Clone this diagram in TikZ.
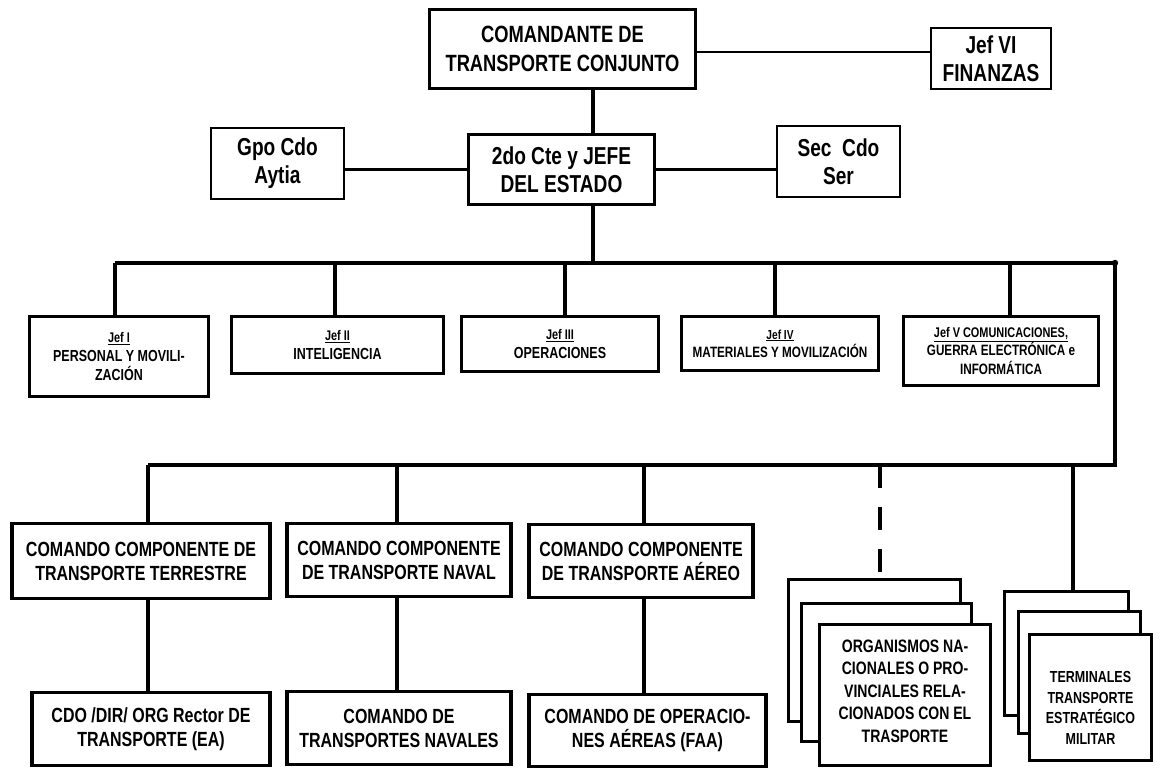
\documentclass[tikz,border=0pt]{standalone}
\usepackage{fontspec}
\setmainfont{Liberation Sans}[FakeStretch=0.78]
\newcommand{\fs}[2]{\fontsize{#1}{#2}\selectfont}
\begin{document}
\begin{tikzpicture}[x=1pt,y=-1pt,
  bx/.style={draw, line width=3.5pt, fill=white, align=center, inner sep=0pt},
  tbx/.style={draw, line width=2pt, fill=white, align=center, inner sep=0pt},
  lbl/.style={align=center, inner sep=0pt},
  big/.style={font=\bfseries\fs{23.5}{29}},
  side/.style={font=\bfseries\fs{24.5}{28}},
  mid/.style={font=\bfseries\fs{20.5}{24}},
  small/.style={font=\bfseries\fs{16}{19}},
  link/.style={line width=4pt},
  tlink/.style={line width=2.6pt},
  dlink/.style={line width=4pt, dash pattern=on 23pt off 19pt},
  bus/.style={line width=4.5pt, line join=miter}]
\useasboundingbox (0,0) rectangle (1161,783);

% command level
\node[bx, big, minimum width=266, minimum height=79] (top) at (562.5,49)
  {COMANDANTE DE\\TRANSPORTE CONJUNTO};
\node[tbx, side, minimum width=120, minimum height=61] (fin) at (991,58.5)
  {Jef VI\\FINANZAS};
\node[bx, side, minimum width=186, minimum height=70] (second) at (561.5,169.5)
  {2do Cte y JEFE\\DEL ESTADO};
\node[tbx, side, minimum width=133, minimum height=71] (gpo) at (277.5,163.5)
  {Gpo Cdo\\Aytia};
\node[tbx, side, minimum width=123, minimum height=71] (sec) at (838.5,161.5)
  {Sec\ \ Cdo\\Ser};

\coordinate (sp) at (593,0);
\coordinate (bus1L) at (115,263);
\coordinate (bus1R) at (1115,263);
\coordinate (bus2L) at (148,465);
\coordinate (bus2R) at (1115,465);

\draw[tlink] ([yshift=-3pt]top.east) -- ([yshift=-3pt]top.east -| fin.west);
\draw[tlink] (second.west) -- (second.west -| gpo.east);
\draw[tlink] (second.east) -- (second.east -| sec.west);
\draw[link] (top.south -| sp) -- (second.north -| sp);
\draw[link] (second.south -| sp) -- (sp |- bus1L);

% staff sections
\node[bx, small, minimum width=179, minimum height=80] (j1) at (119,356.5)
  {\fs{14}{19}\underline{Jef I}\\PERSONAL Y MOVILI-\\ZACIÓN};
\node[bx, small, minimum width=212, minimum height=57] (j2) at (337.5,345)
  {\fs{14}{19}\underline{Jef II}\\INTELIGENCIA};
\node[bx, small, minimum width=197, minimum height=55] (j3) at (560,344)
  {\fs{14}{19}\underline{Jef III}\\OPERACIONES};
\node[bx, font=\bfseries\fs{15}{18}, minimum width=197, minimum height=54] (j4) at (780,343.5)
  {\fs{13}{18}\underline{Jef IV}\\MATERIALES Y MOVILIZACIÓN};
\node[bx, font=\bfseries\fs{15}{18}, minimum width=195, minimum height=69] (j5) at (1001,351)
  {\fs{14}{18}\underline{Jef V COMUNICACIONES,}\\GUERRA ELECTRÓNICA e\\INFORMÁTICA};

\draw[bus] (bus1L) -- (bus1R) -- (bus2R) -- (bus2L);
\fill (bus1R) circle (3.2pt);
\draw[link] ([xshift=-4pt]j1.north |- bus1L) -- ([xshift=-4pt]j1.north);
\draw[link] ([xshift=-2.5pt]j2.north |- bus1L) -- ([xshift=-2.5pt]j2.north);
\draw[link] ([xshift=5pt]j3.north |- bus1L) -- ([xshift=5pt]j3.north);
\draw[link] ([xshift=-5pt]j4.north |- bus1L) -- ([xshift=-5pt]j4.north);
\draw[link] ([xshift=9pt]j5.north |- bus1L) -- ([xshift=9pt]j5.north);

% component commands
\node[bx, mid, minimum width=258, minimum height=75] (c1) at (141,561)
  {COMANDO COMPONENTE DE\\TRANSPORTE TERRESTRE};
\node[bx, mid, minimum width=224, minimum height=73] (c2) at (399,560)
  {COMANDO COMPONENTE\\DE TRANSPORTE NAVAL};
\node[bx, mid, minimum width=224, minimum height=73] (c3) at (641,561)
  {COMANDO COMPONENTE\\DE TRANSPORTE AÉREO};

\node[bx, mid, minimum width=238, minimum height=73] (b1) at (151,729)
  {CDO /DIR/ ORG Rector DE\\TRANSPORTE (EA)};
\node[bx, mid, minimum width=224, minimum height=73] (b2) at (399,728)
  {COMANDO DE\\TRANSPORTES NAVALES};
\node[bx, mid, minimum width=237, minimum height=72] (b3) at (647.5,730.5)
  {COMANDO DE OPERACIO-\\NES AÉREAS (FAA)};

\draw[link] ([xshift=7pt]c1.north |- bus2L) -- ([xshift=7pt]c1.north);
\draw[link] ([xshift=-2pt]c2.north |- bus2L) -- ([xshift=-2pt]c2.north);
\draw[link] ([xshift=3pt]c3.north |- bus2L) -- ([xshift=3pt]c3.north);
\draw[link] ([xshift=7pt]c1.south) -- ([xshift=7pt]c1.south |- b1.north);
\draw[link] ([xshift=-2pt]c2.south) -- ([xshift=-2pt]c2.south |- b2.north);
\draw[link] ([xshift=3pt]c3.south) -- ([xshift=3pt]c3.south |- b3.north);

% stacked bodies
\node[bx, minimum width=172, minimum height=142] (orgA) at (874.5,650.5) {};
\node[bx, minimum width=170, minimum height=138] (orgB) at (886.5,672.5) {};
\node[bx, minimum width=171, minimum height=141] (orgC) at (905,695) {};
\node[lbl, font=\bfseries\fs{18}{22.5}] (orgT) at (905,691)
  {ORGANISMOS NA-\\CIONALES O PRO-\\VINCIALES RELA-\\CIONADOS CON EL\\TRASPORTE};

\node[bx, minimum width=124, minimum height=124] (terA) at (1066.5,653.5) {};
\node[bx, minimum width=122, minimum height=122] (terB) at (1079.5,672.5) {};
\node[bx, minimum width=122, minimum height=126] (terC) at (1090.5,697.5) {};
\node[lbl, font=\bfseries\fs{16}{20.5}] (terT) at (1090.5,708)
  {TERMINALES\\TRANSPORTE\\ESTRATÉGICO\\MILITAR};

\draw[dlink] ([xshift=5.5pt]orgA.north |- bus2L) -- ([xshift=5.5pt]orgA.north);
\draw[link] ([xshift=6.5pt]terA.north |- bus2L) -- ([xshift=6.5pt]terA.north);
\end{tikzpicture}
\end{document}
